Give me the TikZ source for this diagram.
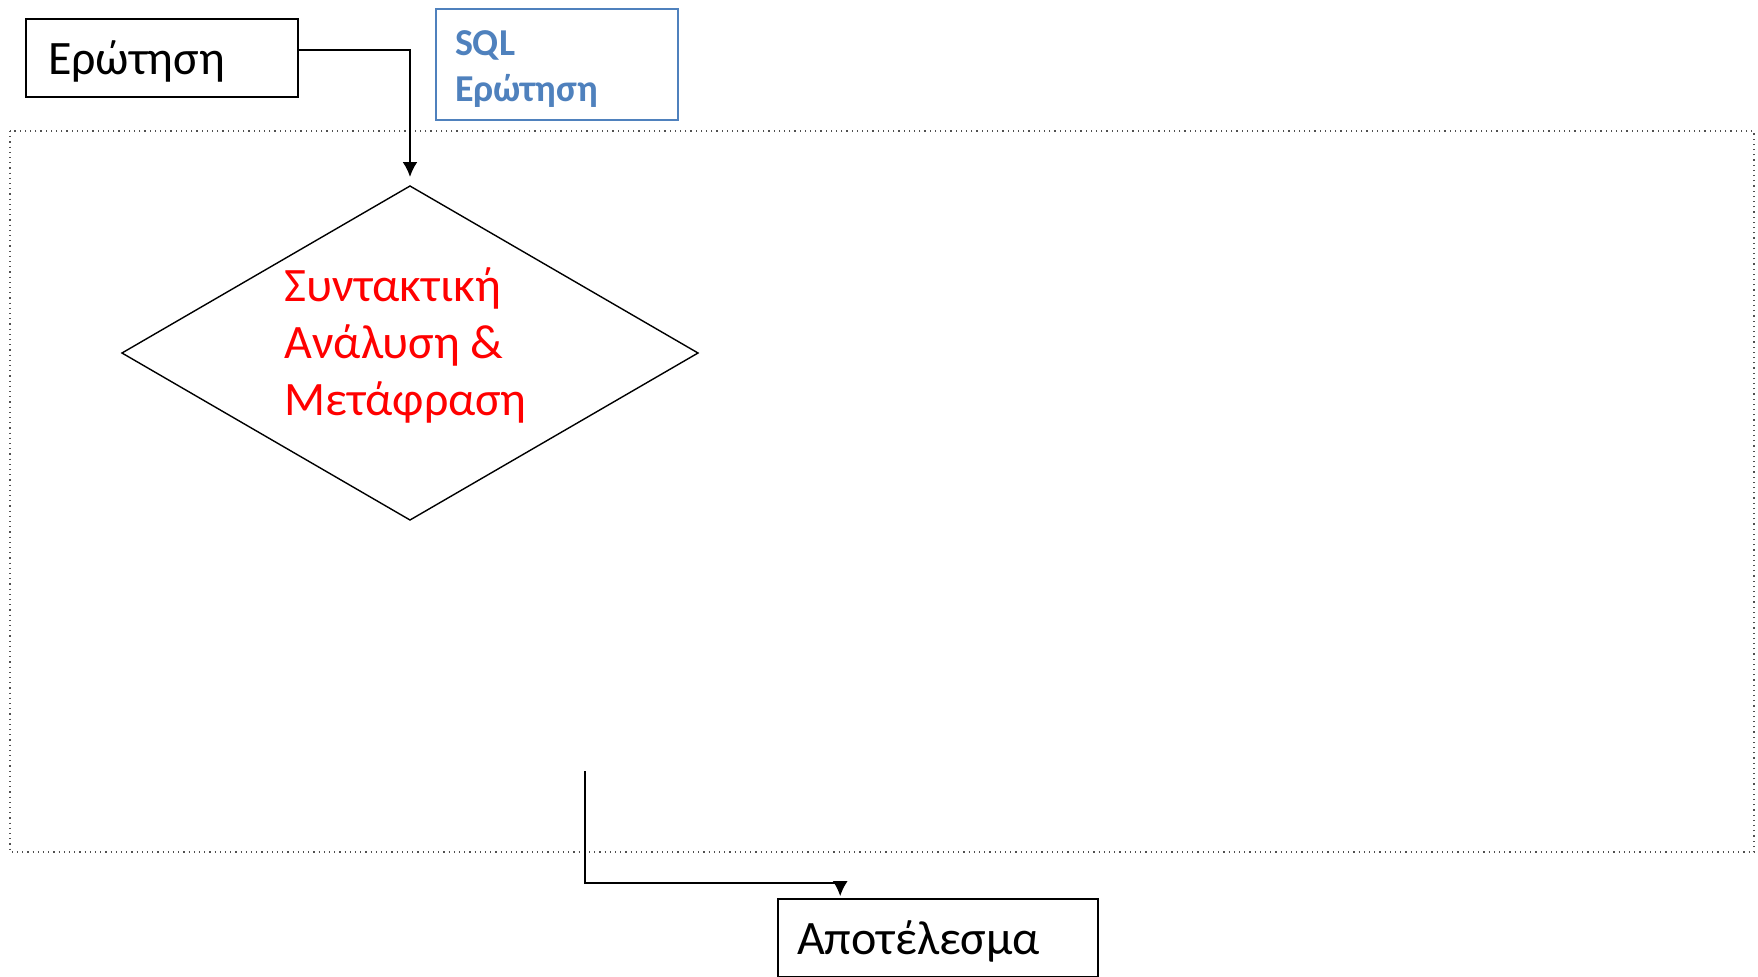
\documentclass[tikz,border=0pt]{standalone}
\usepackage{fontspec}
\setmainfont{Carlito}
\usetikzlibrary{arrows.meta,positioning,calc,shapes.geometric}
\definecolor{sqlblue}{RGB}{79,129,189}
\definecolor{framegray}{RGB}{80,80,80}
\tikzset{stagebox/.style={draw, line width=0.8pt, inner ysep=0pt, align=left, minimum height=39pt, text height=21pt, text depth=4.5pt, font=\fontsize{24}{29}\selectfont}}
\tikzset{arr/.style={draw, line width=1.1pt, -{Latex[length=7.5pt,width=7.5pt]}}}

\begin{document}
\begin{tikzpicture}[x=0.5pt,y=-0.5pt]
	\useasboundingbox (0,0) rectangle (1758,976);
	\draw[dotted, framegray, line width=0.6pt] (10,131) rectangle (1754,852);
	
	\node[stagebox, inner xsep=11pt, text width=114pt] (query) at (162,58){Ερώτηση};
	\node[draw=sqlblue, line width=0.7pt, text=sqlblue, align=left, inner xsep=9.5pt, inner ysep=0pt, text width=102pt, minimum height=55.5pt, font=\bfseries\fontsize{19}{23}\selectfont] (sql) at (557,64.5){\rule{0pt}{16.5pt}SQL\\Ερώτηση};
	
	\node[draw, diamond, line width=0.7pt, minimum width=288pt, minimum height=167pt, inner sep=0pt, outer sep=0pt] (parser) at (410,353){};
	\node[text=red, align=left, anchor=base west, inner sep=0pt, font=\fontsize{24}{28.5}\selectfont] (parsertext) at (284,415){Συντακτική\\Ανάλυση \&\\Μετάφραση};
	
	\node[stagebox, inner xsep=9.5pt, text width=141pt] (result) at (938,938){Αποτέλεσμα};
	
	\coordinate (exit) at (585,771);
	\coordinate (elbow) at (585,883);
	
	\draw[arr, shorten >=4.5pt] ([yshift=4pt]query.east) -| (parser.north);
	\draw[arr, shorten >=1pt] (exit) -- (elbow) -| ([xshift=31.5pt]result.north west);
\end{tikzpicture}
\end{document}
